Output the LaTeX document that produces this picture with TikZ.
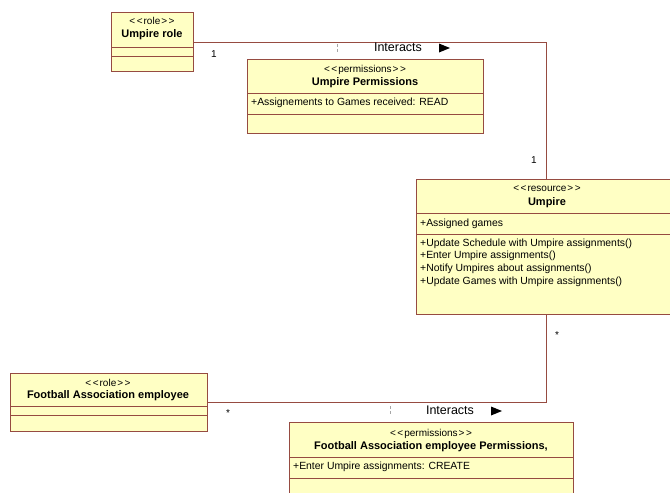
\documentclass[tikz,border=0pt]{standalone}
\usepackage{fontspec}
\setmainfont{Liberation Sans}
\definecolor{umlfill}{RGB}{255,255,196}
\definecolor{umlline}{RGB}{150,75,65}
\newcommand{\stlt}{{<}\kern1.5pt{<}\kern1pt}
\newcommand{\stgt}{\kern1pt{>}\kern1.5pt{>}}
\tikzset{
  umlbox/.style={draw=umlline, fill=umlfill, line width=0.9pt, rectangle, inner sep=0pt, anchor=north west},
  sep/.style={draw=umlline, line width=0.9pt},
  assoc/.style={draw=umlline, line width=0.9pt},
  stereo/.style={font=\fontsize{10}{12}\selectfont, inner sep=0pt},
  cname/.style={font=\fontsize{11}{13}\selectfont\bfseries, inner sep=0pt},
  member/.style={font=\fontsize{10.4}{12}\selectfont, inner sep=0pt, anchor=west},
  mult/.style={font=\fontsize{10}{12}\selectfont, inner sep=0pt},
  assocname/.style={font=\fontsize{12.5}{14}\selectfont, inner sep=0pt},
  navtri/.style={fill=black, draw=none},
  rolemark/.style={draw=gray!70, line width=0.8pt, dash pattern=on 3pt off 2pt}
}
\begin{document}
\begin{tikzpicture}[x=1pt, y=-1pt]
\useasboundingbox (0,0) rectangle (670,493);
\clip (0,0) rectangle (670,493);
\fill[white] (0,0) rectangle (670,493);

% Umpire role
\node[umlbox, minimum width=82pt, minimum height=59pt] (urole) at (111,12) {};
\draw[sep] (111,47) -- (193,47);
\draw[sep] (111,56) -- (193,56);
\node[stereo] (urole-st) at (152,21) {\stlt role\stgt};
\node[cname] (urole-nm) at (152,35) {Umpire role};

% Umpire Permissions
\node[umlbox, minimum width=236pt, minimum height=74pt] (uperm) at (247,59) {};
\draw[sep] (247,93) -- (483,93);
\draw[sep] (247,114) -- (483,114);
\node[stereo] (uperm-st) at (365,70) {\stlt permissions\stgt};
\node[cname] (uperm-nm) at (365,83) {Umpire Permissions};
\node[member] (uperm-a1) at (251,103) {+Assignements to Games received: READ};

% Umpire resource
\node[umlbox, minimum width=260pt, minimum height=135pt] (ump) at (416,179) {};
\draw[sep] (416,213) -- (676,213);
\draw[sep] (416,234) -- (676,234);
\node[stereo] (ump-st) at (547,189) {\stlt resource\stgt};
\node[cname] (ump-nm) at (547,203) {Umpire};
\node[member] (ump-a1) at (420,224) {+Assigned games};
\node[member] (ump-m1) at (420,244) {+Update Schedule with Umpire assignments()};
\node[member] (ump-m2) at (420,256) {+Enter Umpire assignments()};
\node[member] (ump-m3) at (420,269) {+Notify Umpires about assignments()};
\node[member] (ump-m4) at (420,282) {+Update Games with Umpire assignments()};

% Football Association employee
\node[umlbox, minimum width=197pt, minimum height=58pt] (fae) at (10,373) {};
\draw[sep] (10,406) -- (207,406);
\draw[sep] (10,415) -- (207,415);
\node[stereo] (fae-st) at (108,383) {\stlt role\stgt};
\node[cname] (fae-nm) at (108,396) {Football Association employee};

% Football Association employee Permissions
\node[umlbox, minimum width=284pt, minimum height=90pt] (faperm) at (289,422) {};
\draw[sep] (289,457) -- (573,457);
\draw[sep] (289,478) -- (573,478);
\node[stereo] (faperm-st) at (431,434) {\stlt permissions\stgt};
\node[cname] (faperm-nm) at (431,447) {Football Association employee Permissions,};
\node[member] (faperm-a1) at (293,467) {+Enter Umpire assignments: CREATE};

% Associations
\coordinate (ump-top) at (546,179);
\coordinate (ump-bot) at (546,314);
\draw[assoc] (urole.east) -| (ump-top);
\draw[assoc] (ump-bot) |- (fae.east);

% Labels of the upper association
\node[mult] (m1) at (214,54) {1};
\node[mult] (m2) at (534,160) {1};
\node[assocname] (as1) at (398,47) {Interacts};
\fill[navtri] (439,43.5) -- (450,48) -- (439,52.5) -- cycle;
\draw[rolemark] (337,44) -- (337,53);

% Labels of the lower association
\node[mult] (m3) at (228,413) {*};
\node[mult] (m4) at (557,335) {*};
\node[assocname] (as2) at (450,410) {Interacts};
\fill[navtri] (491,406.5) -- (502,411) -- (491,415.5) -- cycle;
\draw[rolemark] (390,406) -- (390,415);
\end{tikzpicture}
\end{document}
